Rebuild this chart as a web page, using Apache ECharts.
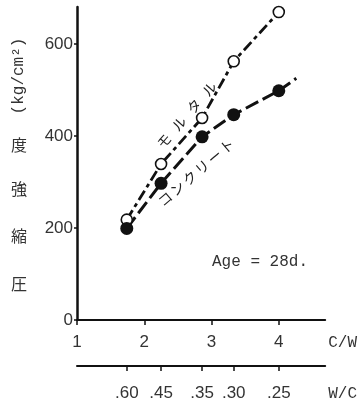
<!DOCTYPE html>
<html>
<head>
<meta charset="utf-8">
<script src="https://cdn.jsdelivr.net/npm/echarts@6/dist/echarts.min.js"></script>
<style>
  html, body { margin: 0; padding: 0; background: #fff; }
  #chart { width: 360px; height: 403px; }
</style>
</head>
<body>
<div id="chart"></div>
<script>
// C/W positions of the mixes
const cwValues = [1.74, 2.25, 2.86, 3.33, 4.0];
const wcLabels = ['.60', '.45', '.35', '.30', '.25'];
const cwTicks = [1, 2, 3, 4];

// compressive strength, kg/cm2
const mortar = [218, 339, 439, 562, 669];
const concrete = [199, 297, 398, 446, 498];
// hand-drawn continuation of the concrete curve past the last point
const concreteTail = [[4.0, 498], [4.26, 525]];

const yLabelChars = ['度', '強', '縮', '圧'];

const chart = echarts.init(document.getElementById('chart'));

const ink = '#111';
const numFont = '"Liberation Sans", sans-serif';
const monoFont = '"Liberation Mono", monospace';
const jpFont = '"Noto Sans CJK JP", sans-serif';

// lay single characters along a slanted line
function alongLine(str, x0, y0, deg, step, size) {
  const rad = deg * Math.PI / 180;
  return str.split('').map((ch, i) => ({
    type: 'text',
    x: x0 + i * step * Math.cos(rad),
    y: y0 - i * step * Math.sin(rad),
    rotation: rad,
    style: {
      text: ch,
      font: size + 'px ' + jpFont,
      fill: '#222',
      align: 'center',
      verticalAlign: 'middle',
    },
  }));
}

const yNameY = [145, 189, 236, 284];
const graphics = [
  {
    type: 'text',
    x: 19,
    y: 76,
    rotation: Math.PI / 2,
    style: {
      text: '(kg/cm²)',
      font: '16px ' + monoFont,
      fill: '#333',
      align: 'center',
      verticalAlign: 'middle',
    },
  },
  ...yLabelChars.map((ch, i) => ({
    type: 'text',
    x: 19,
    y: yNameY[i],
    style: {
      text: ch,
      font: '16px ' + jpFont,
      fill: '#333',
      align: 'center',
      verticalAlign: 'middle',
    },
  })),
  {
    type: 'text',
    x: 212,
    y: 262,
    style: {
      text: 'Age = 28d.',
      font: '16px ' + monoFont,
      fill: '#333',
      align: 'left',
      verticalAlign: 'middle',
    },
  },
  ...alongLine('モルタル', 164, 141, 49, 23, 14),
  ...alongLine('コンクリート', 165, 199, 40.5, 16.3, 14),
];

const option = {
  animation: false,
  grid: { left: 77, right: 30, top: 7, bottom: 83, containLabel: false },
  xAxis: [
    {
      type: 'value',
      min: 1,
      max: 4.69,
      position: 'bottom',
      name: 'C/W',
      nameLocation: 'end',
      nameGap: 3,
      nameTextStyle: {
        fontFamily: monoFont, fontSize: 16, color: '#333',
        verticalAlign: 'top', padding: [15, 0, 0, 0],
      },
      axisLine: { lineStyle: { color: ink, width: 2 } },
      axisTick: { customValues: cwTicks, length: 5, lineStyle: { color: ink, width: 1.5 } },
      axisLabel: {
        customValues: cwTicks, margin: 14,
        fontFamily: numFont, fontSize: 17, color: '#333',
      },
      splitLine: { show: false },
    },
    {
      type: 'value',
      min: 1,
      max: 4.69,
      position: 'bottom',
      offset: 46,
      name: 'W/C',
      nameLocation: 'end',
      nameGap: 3,
      nameTextStyle: {
        fontFamily: monoFont, fontSize: 16, color: '#333',
        verticalAlign: 'top', padding: [20, 0, 0, 0],
      },
      axisLine: { lineStyle: { color: ink, width: 2 } },
      axisTick: { customValues: cwValues, length: 5, lineStyle: { color: ink, width: 1.5 } },
      axisLabel: {
        customValues: cwValues, margin: 19,
        fontFamily: numFont, fontSize: 17, color: '#333',
        formatter: (v) => {
          const i = cwValues.findIndex((c) => Math.abs(c - v) < 1e-6);
          return i >= 0 ? wcLabels[i] : '';
        },
      },
      splitLine: { show: false },
    },
  ],
  yAxis: {
    type: 'value',
    min: 0,
    max: 680,
    interval: 200,
    axisLine: { show: true, lineStyle: { color: ink, width: 2.5 } },
    axisTick: { show: true, length: 3, lineStyle: { color: ink, width: 1.5 } },
    axisLabel: {
      margin: 4, fontFamily: numFont, fontSize: 17, color: '#333',
      showMaxLabel: false,
    },
    splitLine: { show: false },
  },
  graphic: graphics,
  series: [
    {
      name: 'モルタル',
      type: 'line',
      xAxisIndex: 0,
      data: cwValues.map((c, i) => [c, mortar[i]]),
      symbol: 'circle',
      symbolSize: 11,
      itemStyle: { color: '#fff', borderColor: ink, borderWidth: 1.6 },
      lineStyle: { color: ink, width: 2.8, type: [11, 4, 4, 4] },
      z: 3,
    },
    {
      name: 'コンクリート',
      type: 'line',
      xAxisIndex: 0,
      data: cwValues.map((c, i) => [c, concrete[i]]),
      symbol: 'circle',
      symbolSize: 13,
      itemStyle: { color: ink, borderColor: ink, borderWidth: 0 },
      lineStyle: { color: ink, width: 3, type: [14, 5] },
      z: 3,
    },
    {
      type: 'line',
      xAxisIndex: 0,
      data: concreteTail,
      symbol: 'none',
      lineStyle: { color: ink, width: 3, type: [14, 5] },
      z: 2,
    },
  ],
};

chart.setOption(option);
</script>
</body>
</html>
